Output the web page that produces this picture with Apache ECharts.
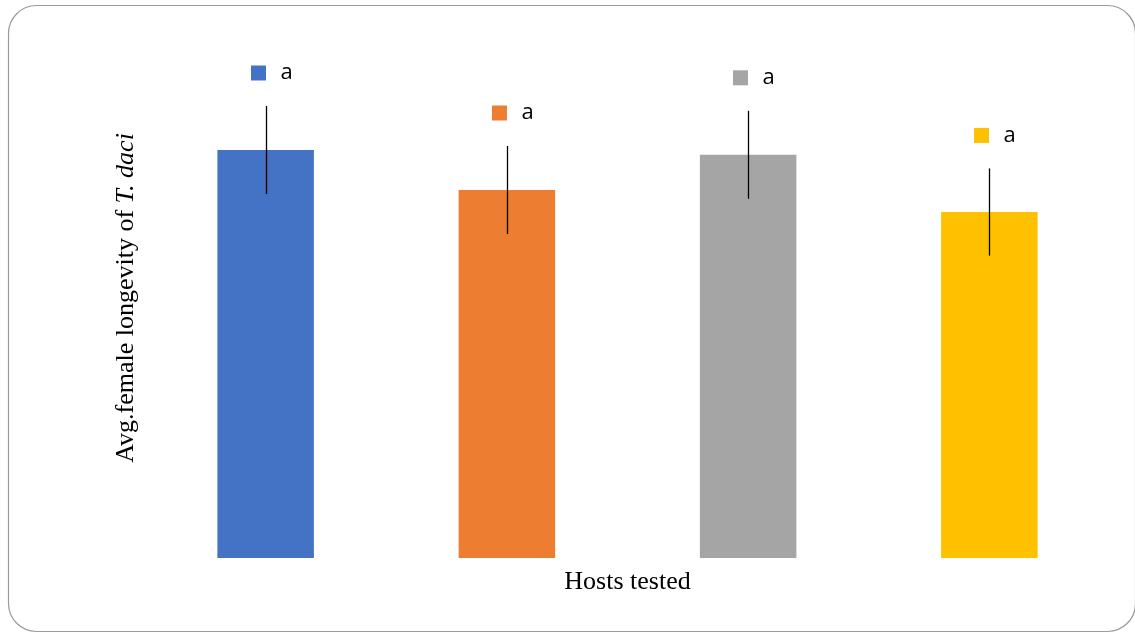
<!DOCTYPE html>
<html>
<head>
<meta charset="utf-8">
<script src="https://cdn.jsdelivr.net/npm/echarts@6/dist/echarts.min.js"></script>
<style>html,body{margin:0;padding:0;background:#fff}#c{width:1135px;height:634px}</style>
</head>
<body>
<div id="c"></div>
<script>
var categories = ['Host 1', 'Host 2', 'Host 3', 'Host 4'];
var longevity = [10.2, 9.2, 10.08, 8.65];
var errors = [1.1, 1.1, 1.1, 1.09];
var letters = ['a', 'a', 'a', 'a'];
var colors = ['#4472C4', '#ED7D31', '#A5A5A5', '#FFC000'];

var chart = echarts.init(document.getElementById('c'), null, {renderer: 'canvas'});
var errData = categories.map(function (c, i) { return [i, longevity[i], errors[i], letters[i]]; });

chart.setOption({
  animation: false,
  backgroundColor: '#fff',
  graphic: [{
    type: 'rect', z: -1,
    shape: {x: 8.5, y: 5.5, width: 1127, height: 626, r: 28},
    style: {fill: 'none', stroke: '#9a9a9a', lineWidth: 1.2}
  }],
  grid: {left: 145, right: 25, top: 38, bottom: 76},
  xAxis: {
    type: 'category', data: categories,
    axisLine: {show: false}, axisTick: {show: false}, axisLabel: {show: false},
    name: 'Hosts tested', nameLocation: 'middle', nameGap: 11,
    nameTextStyle: {fontFamily: 'Liberation Serif', fontSize: 26, color: '#000'}
  },
  yAxis: {
    type: 'value', min: 0, max: 13,
    axisLine: {show: false}, axisTick: {show: false}, axisLabel: {show: false}, splitLine: {show: false},
    name: '{n|Avg.female longevity of }{i|T. daci}', nameLocation: 'middle', nameGap: 6, nameRotate: 90,
    nameTextStyle: {
      rich: {
        n: {fontFamily: 'Liberation Serif', fontSize: 26, color: '#000'},
        i: {fontFamily: 'Liberation Serif', fontSize: 26, fontStyle: 'italic', color: '#000'}
      }
    }
  },
  series: [{
    type: 'bar', barWidth: '40%',
    data: longevity.map(function (v, i) { return {value: v, itemStyle: {color: colors[i]}}; })
  }, {
    type: 'custom', z: 10,
    data: errData,
    renderItem: function (params, api) {
      var i = api.value(0), v = api.value(1), e = api.value(2);
      var top = api.coord([i, v + e]);
      var bot = api.coord([i, v - e]);
      var x = Math.round(top[0]) + 0.5;
      var ly = top[1] - 33;
      return {
        type: 'group',
        children: [{
          type: 'line',
          shape: {x1: x, y1: top[1], x2: x, y2: bot[1]},
          style: {stroke: '#000', lineWidth: 1.3}
        }, {
          type: 'rect',
          shape: {x: x - 15.5, y: ly - 7.5, width: 15, height: 15},
          style: {fill: colors[params.dataIndex]}
        }, {
          type: 'text',
          style: {x: x + 14, y: ly, text: letters[params.dataIndex], fill: '#000',
            font: '22px "Open Sans", "Noto Sans", sans-serif', textAlign: 'left', textVerticalAlign: 'middle'}
        }]
      };
    }
  }]
});
</script>
</body>
</html>
